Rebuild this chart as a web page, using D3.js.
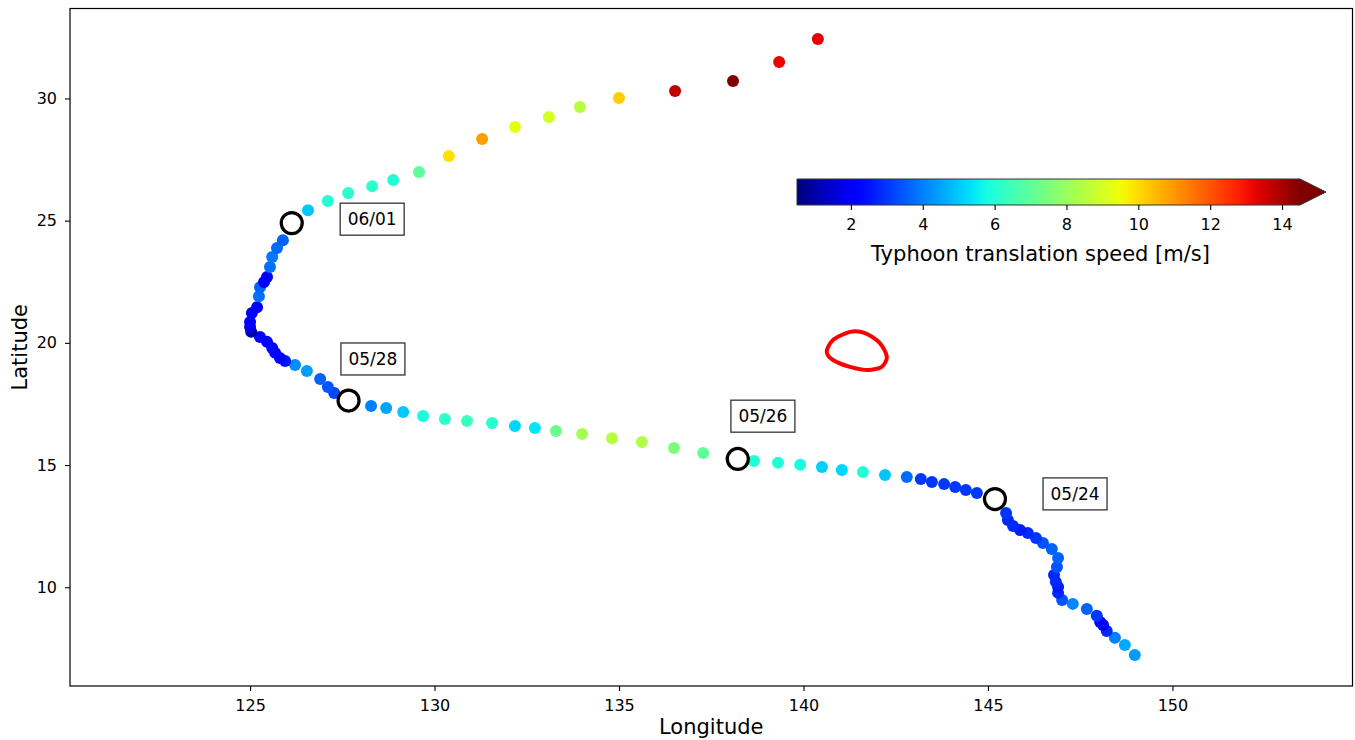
<!DOCTYPE html>
<html lang="en">
<head>
  <meta charset="UTF-8">
  <title>Typhoon track</title>
  <script src="https://d3js.org/d3.v7.min.js"></script>
  <style>
    body { margin: 0; background: #fff; }
    svg text { font-family: "DejaVu Sans", sans-serif; fill: #000; }
  </style>
</head>
<body>
  <div id="chart"></div>
  <script>
    // track points (lon, lat, translation speed m/s), in time order
    var trackLon = [148.98,148.71,148.44,148.22,148.12,148.04,147.95,147.68,147.30,147.01,
      146.90,146.90,146.84,146.79,146.87,146.90,146.73,146.49,146.30,146.08,
      145.87,145.68,145.54,145.49,145.19,144.70,144.40,144.11,143.81,143.48,
      143.18,142.80,142.21,141.61,141.04,140.50,139.91,139.31,138.66,138.04,
      137.28,136.49,135.62,134.81,134.00,133.29,132.72,132.18,131.56,130.88,
      130.28,129.69,129.15,128.69,128.28,127.68,127.28,127.11,126.90,126.54,
      126.22,125.95,125.81,125.68,125.60,125.46,125.27,125.03,125.00,125.00,
      125.05,125.19,125.24,125.27,125.38,125.46,125.54,125.60,125.73,125.89,
      126.14,126.57,127.11,127.66,128.31,128.88,129.58,130.39,131.29,132.18,
      133.10,133.94,135.00,136.52,138.09,139.34,140.39];
    var trackLat = [7.23,7.64,7.93,8.21,8.46,8.58,8.83,9.11,9.32,9.48,
      9.77,10.01,10.22,10.50,10.83,11.20,11.57,11.81,12.02,12.22,
      12.34,12.51,12.75,13.04,13.61,13.86,13.98,14.10,14.22,14.31,
      14.43,14.51,14.59,14.72,14.80,14.92,15.01,15.09,15.17,15.29,
      15.49,15.70,15.94,16.10,16.27,16.39,16.52,16.60,16.72,16.80,
      16.88,17.01,17.17,17.33,17.42,17.66,17.95,18.19,18.52,18.85,
      19.09,19.26,19.38,19.59,19.79,20.04,20.24,20.45,20.65,20.85,
      21.22,21.46,21.91,22.28,22.49,22.69,23.10,23.51,23.88,24.20,
      24.90,25.43,25.80,26.13,26.41,26.66,26.99,27.64,28.34,28.83,
      29.24,29.65,30.02,30.30,30.71,31.49,32.43];
    var trackSpeed = [4.4,4.6,4.0,2.8,1.9,2.0,3.0,3.6,4.1,3.4,
      2.8,2.6,2.8,2.8,3.4,3.6,3.6,3.4,3.0,2.8,
      2.6,2.8,2.8,3.0,3.0,3.0,3.0,3.0,3.0,3.0,
      3.0,3.7,5.0,6.0,5.2,5.1,5.8,6.0,6.0,6.3,
      7.0,7.5,8.4,8.5,8.2,7.2,5.4,5.2,6.1,6.4,
      6.2,5.8,5.0,4.5,4.0,3.6,3.2,3.4,3.6,4.4,
      4.2,2.5,2.2,2.2,2.3,2.2,2.2,1.0,1.8,2.0,
      2.0,2.1,3.8,3.6,1.9,2.2,3.8,3.9,3.7,3.6,
      4.0,5.0,6.0,6.1,6.2,6.0,7.0,9.9,10.9,9.3,
      9.0,8.5,10.2,13.7,15.0,13.2,13.3];

    // daily markers and their labels
    var markDates = ["05/24", "05/26", "05/28", "06/01"];
    var markLon = [145.19, 138.22, 127.67, 126.13];
    var markLat = [13.61, 15.25, 17.64, 24.90];
    var labelLon = [147.36, 138.90, 128.33, 128.31];
    var labelLat = [13.82, 17.00, 19.34, 25.06];

    // red contour
    var loopLon = [140.63,140.80,141.26,141.67,142.07,142.26,142.12,141.75,141.26,140.80];
    var loopLat = [19.64,20.12,20.45,20.40,19.99,19.43,19.02,18.89,19.02,19.30];

    var xTicks = [125, 130, 135, 140, 145, 150];
    var yTicks = [10, 15, 20, 25, 30];
    var cbTicks = [2, 4, 6, 8, 10, 12, 14];

    // jet colormap (matplotlib segment data)
    function seg(pts, t) {
      for (var i = 1; i < pts.length; i++) {
        if (t <= pts[i][0]) {
          var a = pts[i-1], b = pts[i];
          return a[1] + (b[1]-a[1]) * (t - a[0]) / (b[0] - a[0]);
        }
      }
      return pts[pts.length-1][1];
    }
    function jet(t) {
      t = Math.max(0, Math.min(1, t));
      var r = seg([[0,0],[0.35,0],[0.66,1],[0.89,1],[1,0.5]], t);
      var g = seg([[0,0],[0.125,0],[0.375,1],[0.64,1],[0.91,0],[1,0]], t);
      var b = seg([[0,0.5],[0.11,1],[0.34,1],[0.65,0],[1,0]], t);
      return d3.rgb(r*255, g*255, b*255).formatHex();
    }
    var vmin = 0.5, vmax = 14.5;
    var color = d3.scaleSequential(jet).domain([vmin, vmax]).clamp(true);

    var W = 1355, H = 740;
    var margin = {top: 8.5, right: 2.5, bottom: 54, left: 70};
    var width = W - margin.left - margin.right,
        height = H - margin.top - margin.bottom;

    var svg = d3.select("#chart").append("svg")
      .attr("width", W).attr("height", H);
    var g = svg.append("g")
      .attr("transform", "translate(" + margin.left + "," + margin.top + ")");

    var x = d3.scaleLinear().domain([120.12, 154.88]).range([0, width]);
    var y = d3.scaleLinear().domain([5.96, 33.68]).range([height, 0]);

    // style an axis like matplotlib
    function styleAxis(a) {
      a.select(".domain").remove();
      a.selectAll(".tick line").attr("stroke", "#000").attr("stroke-width", 1.1);
      a.selectAll(".tick text").attr("fill", "#000").style("font-size", "16px");
    }

    var xAxis = g.append("g")
      .attr("transform", "translate(0," + height + ")")
      .call(d3.axisBottom(x).tickValues(xTicks).tickSize(5).tickPadding(9).tickFormat(d3.format("d")));
    var yAxis = g.append("g")
      .call(d3.axisLeft(y).tickValues(yTicks).tickSize(5).tickPadding(8).tickFormat(d3.format("d")));
    styleAxis(xAxis);
    styleAxis(yAxis);

    g.append("text").attr("x", width / 2).attr("y", height + 48)
      .attr("text-anchor", "middle").style("font-size", "21px").text("Longitude");
    g.append("text").attr("transform", "rotate(-90)")
      .attr("x", -height / 2).attr("y", -43)
      .attr("text-anchor", "middle").style("font-size", "21px").text("Latitude");

    var idx = d3.range(trackLon.length);

    // track dots
    g.append("g").selectAll("circle")
      .data(idx).enter().append("circle")
      .attr("cx", function(i) { return x(trackLon[i]); })
      .attr("cy", function(i) { return y(trackLat[i]); })
      .attr("r", 6)
      .attr("fill", function(i) { return color(trackSpeed[i]); });

    // red contour
    var line = d3.line().curve(d3.curveCardinalClosed.tension(0.2))
      .x(function(i) { return x(loopLon[i]); })
      .y(function(i) { return y(loopLat[i]); });
    g.append("path").datum(d3.range(loopLon.length))
      .attr("d", line).attr("fill", "none")
      .attr("stroke", "#ff0000").attr("stroke-width", 4);

    // date markers
    g.append("g").selectAll("circle")
      .data(markDates).enter().append("circle")
      .attr("cx", function(d, i) { return x(markLon[i]); })
      .attr("cy", function(d, i) { return y(markLat[i]); })
      .attr("r", 10.5)
      .attr("fill", "#fff").attr("stroke", "#000").attr("stroke-width", 3.2);

    // labels with boxes
    var lab = g.append("g").selectAll("g")
      .data(markDates).enter().append("g")
      .attr("transform", function(d, i) { return "translate(" + x(labelLon[i]) + "," + y(labelLat[i]) + ")"; });
    lab.append("rect")
      .attr("x", -32).attr("y", -16).attr("width", 64).attr("height", 32)
      .attr("fill", "#fff").attr("stroke", "#333").attr("stroke-width", 1.3);
    lab.append("text")
      .attr("text-anchor", "middle").attr("dy", "0.36em")
      .style("font-size", "17px").text(function(d) { return d; });

    // frame
    g.append("rect").attr("width", width).attr("height", height)
      .attr("fill", "none").attr("stroke", "#000").attr("stroke-width", 1.2);

    // colorbar
    var cbX0 = 797, cbX1 = 1300, cbY = 179, cbH = 26;
    var cb = svg.append("g");
    var grad = svg.append("defs").append("linearGradient").attr("id", "jetgrad");
    d3.range(0, 1.0001, 0.02).forEach(function(t) {
      grad.append("stop").attr("offset", (t * 100) + "%").attr("stop-color", jet(t));
    });
    var cbx = d3.scaleLinear().domain([vmin, vmax]).range([cbX0, cbX1]);
    cb.append("rect").attr("x", cbX0).attr("y", cbY).attr("width", cbX1 - cbX0).attr("height", cbH)
      .attr("fill", "url(#jetgrad)");
    cb.append("path")
      .attr("d", "M" + cbX1 + "," + cbY + "L" + (cbX1 + 26) + "," + (cbY + cbH / 2) + "L" + cbX1 + "," + (cbY + cbH) + "Z")
      .attr("fill", color(vmax));
    cb.append("path")
      .attr("d", "M" + cbX0 + "," + cbY + "L" + cbX1 + "," + cbY + "L" + (cbX1 + 26) + "," + (cbY + cbH / 2) +
        "L" + cbX1 + "," + (cbY + cbH) + "L" + cbX0 + "," + (cbY + cbH) + "Z")
      .attr("fill", "none").attr("stroke", "#333").attr("stroke-width", 1);
    var cbAxis = cb.append("g").attr("transform", "translate(0," + (cbY + cbH) + ")")
      .call(d3.axisBottom(cbx).tickValues(cbTicks).tickSize(5).tickPadding(9).tickFormat(d3.format("d")));
    styleAxis(cbAxis);
    cb.append("text").attr("x", 1040.5).attr("y", 261)
      .attr("text-anchor", "middle").style("font-size", "21px")
      .text("Typhoon translation speed [m/s]");
  </script>
</body>
</html>
